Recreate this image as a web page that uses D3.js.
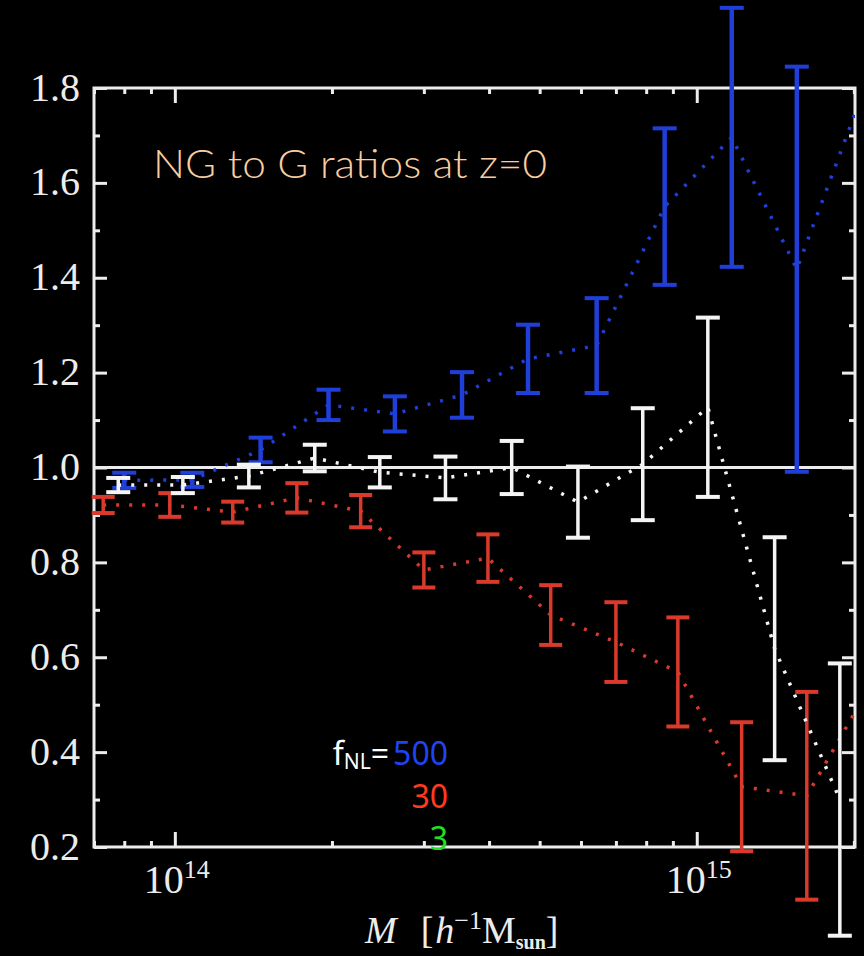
<!DOCTYPE html>
<html>
<head>
<meta charset="utf-8">
<script src="https://cdn.jsdelivr.net/npm/d3@7"></script>
<style>
body { margin: 0; background: #000; }
svg { display: block; }
</style>
</head>
<body>
<script>
(function(){

//halo mass of each bin, in units of 10^14 h^-1 Msun
var massBlue  = [0.80, 1.08, 1.46, 1.97, 2.64, 3.55, 4.75, 6.43, 8.68, 11.67, 15.55, 21.3];
var ratioBlue = [0.973, 0.974, 1.037, 1.132, 1.113, 1.153, 1.229, 1.257, 1.550, 1.696, 1.418, 1.82];
var errBlue   = [0.016, 0.015, 0.026, 0.032, 0.037, 0.048, 0.072, 0.100, 0.165, 0.273, 0.427, 0.50];

var massRed  = [0.729, 0.978, 1.291, 1.713, 2.27, 3.00, 3.98, 5.25, 7.00, 9.20, 12.19, 16.25, 21.5];
var ratioRed = [0.921, 0.921, 0.906, 0.936, 0.908, 0.784, 0.809, 0.689, 0.632, 0.569, 0.327, 0.308, 0.54];
var errRed   = [0.017, 0.025, 0.022, 0.031, 0.034, 0.037, 0.050, 0.063, 0.084, 0.115, 0.136, 0.219, 0.30];

var massWhite  = [0.779, 1.036, 1.386, 1.854, 2.47, 3.30, 4.42, 5.92, 7.88, 10.5, 14.1, 18.8];
var ratioWhite = [0.963, 0.963, 0.982, 1.020, 0.990, 0.978, 1.000, 0.927, 1.007, 1.127, 0.618, 0.300];
var errWhite   = [0.015, 0.017, 0.024, 0.028, 0.032, 0.045, 0.056, 0.075, 0.118, 0.189, 0.235, 0.287];

//axis ticks
var yMajorTicks = [0.2, 0.4, 0.6, 0.8, 1.0, 1.2, 1.4, 1.6, 1.8];
var yTickLabels = ["0.2", "0.4", "0.6", "0.8", "1.0", "1.2", "1.4", "1.6", "1.8"];
var xMajorTicks = [1, 10];
var xTickExponents = ["14", "15"];

//legend text
var legendValues = ["500", "30", "3"];
var titleText = "NG to G ratios at z=0";

//frame dimensions
var width = 864,
    height = 956,
    plotLeft = 94,
    plotRight = 855,
    plotTop = 88,
    plotBottom = 847,
    axisColor = "#ececec";

var x = d3.scaleLog()
    .domain([0.7, 20.1])
    .range([plotLeft, plotRight]);

var y = d3.scaleLinear()
    .domain([0.2, 1.8])
    .range([plotBottom, plotTop]);

var svg = d3.select("body")
    .append("svg")
    .attr("width", width)
    .attr("height", height)
    .style("background", "#000");

var defs = svg.append("defs");

//lines stay inside the frame
defs.append("clipPath")
    .attr("id", "plotClip")
    .append("rect")
    .attr("x", plotLeft)
    .attr("y", plotTop)
    .attr("width", plotRight - plotLeft)
    .attr("height", plotBottom - plotTop);

//error bars may poke out above and below, but not to the right
defs.append("clipPath")
    .attr("id", "barClip")
    .append("rect")
    .attr("x", plotLeft - 4)
    .attr("y", 0)
    .attr("width", plotRight - plotLeft + 5)
    .attr("height", height);

//minor tick values come from the scales
var yMinorTicks = y.ticks(16).filter(function(v){
    return yMajorTicks.indexOf(Math.round(v * 10) / 10) < 0;
});
var xMinorTicks = x.ticks().filter(function(v){
    return xMajorTicks.indexOf(v) < 0;
});

function styleAxis(g){
    g.select(".domain").remove();
    g.selectAll(".tick line")
        .attr("stroke", axisColor)
        .attr("stroke-width", 3);
}

//left axis with labels
svg.append("g")
    .attr("transform", "translate(" + plotLeft + ",0)")
    .call(d3.axisLeft(y)
        .tickValues(yMajorTicks)
        .tickSize(-13)
        .tickPadding(14)
        .tickFormat(function(d, i){ return yTickLabels[i]; }))
    .call(styleAxis)
    .call(function(g){
        g.selectAll("text")
            .attr("fill", axisColor)
            .attr("dy", "0.3em")
            .style("font-family", "'Liberation Serif', 'DejaVu Serif', serif")
            .style("font-size", "40px");
    });

svg.append("g")
    .attr("transform", "translate(" + plotLeft + ",0)")
    .call(d3.axisLeft(y).tickValues(yMinorTicks).tickSize(-6).tickFormat(""))
    .call(styleAxis);

//right axis, ticks only
svg.append("g")
    .attr("transform", "translate(" + plotRight + ",0)")
    .call(d3.axisRight(y).tickValues(yMajorTicks).tickSize(-13).tickFormat(""))
    .call(styleAxis);

svg.append("g")
    .attr("transform", "translate(" + plotRight + ",0)")
    .call(d3.axisRight(y).tickValues(yMinorTicks).tickSize(-6).tickFormat(""))
    .call(styleAxis);

//bottom and top axes
svg.append("g")
    .attr("transform", "translate(0," + plotBottom + ")")
    .call(d3.axisBottom(x).tickValues(xMajorTicks).tickSize(-15).tickFormat(""))
    .call(styleAxis);

svg.append("g")
    .attr("transform", "translate(0," + plotBottom + ")")
    .call(d3.axisBottom(x).tickValues(xMinorTicks).tickSize(-6).tickFormat(""))
    .call(styleAxis);

svg.append("g")
    .attr("transform", "translate(0," + plotTop + ")")
    .call(d3.axisTop(x).tickValues(xMajorTicks).tickSize(-15).tickFormat(""))
    .call(styleAxis);

svg.append("g")
    .attr("transform", "translate(0," + plotTop + ")")
    .call(d3.axisTop(x).tickValues(xMinorTicks).tickSize(-6).tickFormat(""))
    .call(styleAxis);

//x tick labels as 10^n
var xLabels = svg.selectAll(".xLabel")
    .data(xMajorTicks)
    .enter()
    .append("text")
    .attr("class", "xLabel")
    .attr("x", function(d){ return x(d) + 2; })
    .attr("y", plotBottom + 46)
    .attr("text-anchor", "middle")
    .attr("fill", axisColor)
    .style("font-family", "'Liberation Serif', 'DejaVu Serif', serif")
    .style("font-size", "40px");

xLabels.append("tspan").text("10");
xLabels.append("tspan")
    .attr("dy", -15)
    .style("font-size", "26px")
    .text(function(d, i){ return xTickExponents[i]; });

//frame
svg.append("rect")
    .attr("x", plotLeft)
    .attr("y", plotTop)
    .attr("width", plotRight - plotLeft)
    .attr("height", plotBottom - plotTop)
    .attr("fill", "none")
    .attr("stroke", axisColor)
    .attr("stroke-width", 3);

//reference line at ratio 1
svg.append("line")
    .attr("x1", plotLeft)
    .attr("x2", plotRight)
    .attr("y1", y(1))
    .attr("y2", y(1))
    .attr("stroke", axisColor)
    .attr("stroke-width", 3);

//build the series table
function makeSeries(mass, ratio, err){
    return mass.map(function(m, i){
        return { m: m, r: ratio[i], e: err[i] };
    });
}

var series = [
    { points: makeSeries(massBlue, ratioBlue, errBlue), color: "#1f3fd8", bar: 4.5, cap: 24 },
    { points: makeSeries(massRed, ratioRed, errRed), color: "#d93a2c", bar: 3.5, cap: 23 },
    { points: makeSeries(massWhite, ratioWhite, errWhite), color: "#f4f4f4", bar: 3.5, cap: 24 }
];

var line = d3.line()
    .x(function(d){ return x(d.m); })
    .y(function(d){ return y(d.r); });

series.forEach(function(s){
    //dotted connecting line
    svg.append("path")
        .datum(s.points)
        .attr("clip-path", "url(#plotClip)")
        .attr("d", line)
        .attr("fill", "none")
        .attr("stroke", s.color)
        .attr("stroke-width", 3.5)
        .attr("stroke-dasharray", "3,10");

    //error bars
    var bars = svg.append("g")
        .attr("clip-path", "url(#barClip)")
        .selectAll(".errBar")
        .data(s.points)
        .enter()
        .append("g")
        .attr("class", "errBar");

    bars.append("line")
        .attr("x1", function(d){ return x(d.m); })
        .attr("x2", function(d){ return x(d.m); })
        .attr("y1", function(d){ return y(d.r - d.e); })
        .attr("y2", function(d){ return y(d.r + d.e); })
        .attr("stroke", s.color)
        .attr("stroke-width", s.bar);

    [-1, 1].forEach(function(sign){
        bars.append("line")
            .attr("x1", function(d){ return x(d.m) - s.cap / 2; })
            .attr("x2", function(d){ return x(d.m) + s.cap / 2; })
            .attr("y1", function(d){ return y(d.r + sign * d.e); })
            .attr("y2", function(d){ return y(d.r + sign * d.e); })
            .attr("stroke", s.color)
            .attr("stroke-width", 4);
    });
});

//title
svg.append("text")
    .attr("x", 153)
    .attr("y", 178)
    .attr("fill", "#f9cda0")
    .attr("textLength", 394)
    .attr("lengthAdjust", "spacingAndGlyphs")
    .style("font-family", "Lato, 'Open Sans', sans-serif")
    .style("font-weight", 300)
    .style("font-size", "40px")
    .text(titleText);

//legend
var legendFont = "'Noto Sans', 'Open Sans', sans-serif";
var legendColors = ["#1f44f2", "#ff3a1e", "#22e022"];

var fLabel = svg.append("text")
    .attr("x", 389)
    .attr("y", 765)
    .attr("text-anchor", "end")
    .attr("fill", "#fff")
    .style("font-family", legendFont)
    .style("font-size", "32px");
fLabel.append("tspan").text("f");
fLabel.append("tspan")
    .attr("dy", 4)
    .style("font-size", "21px")
    .text("NL");
fLabel.append("tspan")
    .attr("dy", -4)
    .text("=");

svg.selectAll(".legendValue")
    .data(legendValues)
    .enter()
    .append("text")
    .attr("class", "legendValue")
    .attr("x", 448)
    .attr("y", function(d, i){ return 765 + i * 42.5; })
    .attr("text-anchor", "end")
    .attr("fill", function(d, i){ return legendColors[i]; })
    .style("font-family", legendFont)
    .style("font-size", "32px")
    .text(function(d){ return d; });

//x axis title: M [h^-1 Msun]
var xTitle = svg.append("text")
    .attr("x", 365)
    .attr("y", 943)
    .attr("fill", axisColor)
    .style("font-family", "'Liberation Serif', 'DejaVu Serif', serif")
    .style("font-size", "38px");
xTitle.append("tspan").style("font-style", "italic").text("M");
xTitle.append("tspan").attr("dx", 24).text("[");
xTitle.append("tspan").attr("dx", 2).style("font-style", "italic").text("h");
xTitle.append("tspan").attr("dy", -14).style("font-size", "26px").text("\u22121");
xTitle.append("tspan").attr("dy", 14).text("M");
xTitle.append("tspan").attr("dy", 6).style("font-size", "20px").style("font-weight", "bold").text("sun");
xTitle.append("tspan").attr("dy", -6).text("]");

})();
</script>
</body>
</html>
